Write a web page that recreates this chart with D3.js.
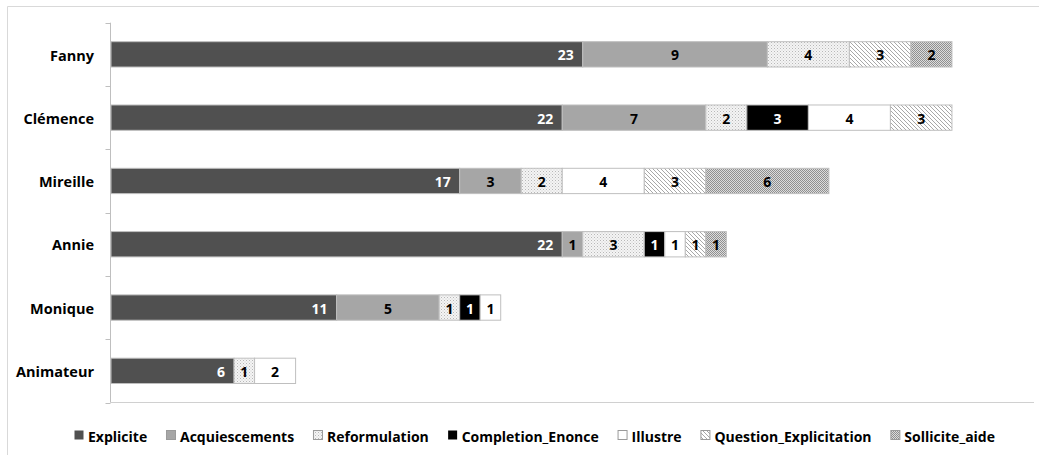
<!DOCTYPE html>
<html><head><meta charset="utf-8">
<script src="https://cdn.jsdelivr.net/npm/d3@7"></script>
<style>
html,body{margin:0;padding:0;background:#fff;}
svg{display:block;font-family:"Open Sans",Lato,sans-serif;font-weight:bold;}
</style></head>
<body><svg id="c" width="1039" height="455"></svg>
<script>
const categories = ["Fanny","Clémence","Mireille","Annie","Monique","Animateur"];
const seriesNames = ["Explicite","Acquiescements","Reformulation","Completion_Enonce","Illustre","Question_Explicitation","Sollicite_aide"];
const explicite        = [23,22,17,22,11,6];
const acquiescements   = [9,7,3,1,5,0];
const reformulation    = [4,2,2,3,1,1];
const completionEnonce = [0,3,0,1,1,0];
const illustre         = [0,4,4,1,1,2];
const questionExpl     = [3,3,3,1,0,0];
const solliciteAide    = [2,0,6,1,0,0];
const xMax = 45;

const seriesValues = [explicite,acquiescements,reformulation,completionEnonce,illustre,questionExpl,solliciteAide];
const fills = ["#505050","#a6a6a6","url(#pReform)","#000000","#ffffff","url(#pQuest)","url(#pSoll)"];
const labelColors = ["#fff","#000","#000","#fff","#000","#000","#000"];

const svg = d3.select("#c");
const defs = svg.append("defs");
let p = defs.append("pattern").attr("id","pReform").attr("width",3).attr("height",3).attr("patternUnits","userSpaceOnUse");
p.append("rect").attr("width",3).attr("height",3).attr("fill","#f4f4f4");
p.append("rect").attr("width",1).attr("height",1).attr("fill","#b8b8b8");
p.append("rect").attr("x",1.5).attr("y",1.5).attr("width",1).attr("height",1).attr("fill","#cfcfcf");
p = defs.append("pattern").attr("id","pQuest").attr("width",4).attr("height",4).attr("patternUnits","userSpaceOnUse");
p.append("rect").attr("width",4).attr("height",4).attr("fill","#fff");
p.append("path").attr("d","M0,0L4,4M-1,3L1,5M3,-1L5,1").attr("stroke","#a8a8a8").attr("stroke-width",1);
p = defs.append("pattern").attr("id","pSoll").attr("width",2).attr("height",2).attr("patternUnits","userSpaceOnUse");
p.append("rect").attr("width",2).attr("height",2).attr("fill","#dcdcdc");
p.append("rect").attr("width",1).attr("height",1).attr("fill","#909090");
p.append("rect").attr("x",1).attr("y",1).attr("width",1).attr("height",1).attr("fill","#909090");

svg.append("path").attr("d","M7.5,460V6.5H1045").attr("fill","none").attr("stroke","#d9d9d9");

const x = d3.scaleLinear().domain([0,xMax]).range([111,1034]);
const y = d3.scaleBand().domain(categories).range([22.7,402.5]).paddingInner(0.6).paddingOuter(0.3);

svg.append("line").attr("x1",110.5).attr("x2",1034).attr("y1",402.5).attr("y2",402.5).attr("stroke","#d0d0d0");

const rows = categories.map((c,i)=>{const o={cat:c}; seriesNames.forEach((s,j)=>o[s]=seriesValues[j][i]); return o;});
const stacked = d3.stack().keys(seriesNames)(rows);

stacked.forEach((layer,j)=>{
  const g = svg.append("g");
  layer.forEach(d=>{
    const v = d[1]-d[0];
    if(v<=0) return;
    g.append("rect")
      .attr("x",x(d[0])).attr("y",y(d.data.cat))
      .attr("width",x(d[1])-x(d[0])).attr("height",y.bandwidth())
      .attr("fill",fills[j]).attr("stroke","#bfbfbf").attr("stroke-width",1);
  });
});
stacked.forEach((layer,j)=>{
  layer.forEach(d=>{
    const v = d[1]-d[0];
    if(v<=0) return;
    const cy = y(d.data.cat)+y.bandwidth()/2;
    const t = svg.append("text").attr("y",cy+1).attr("dy","0.36em")
      .attr("font-size",14).attr("fill",labelColors[j]).text(v);
    if(j===0) t.attr("x",x(d[1])-9).attr("text-anchor","end");
    else t.attr("x",(x(d[0])+x(d[1]))/2).attr("text-anchor","middle");
  });
});

const yAxis = svg.append("g").attr("transform","translate(110.5,0)");
yAxis.append("line").attr("y1",22.7).attr("y2",402.5).attr("stroke","#bfbfbf");
const step = y.step();
for(let i=0;i<=categories.length;i++){
  const ty = Math.round(22.7+i*step)+0.5;
  yAxis.append("line").attr("x1",-5).attr("x2",0).attr("y1",ty).attr("y2",ty).attr("stroke","#bfbfbf");
}
categories.forEach(c=>{
  svg.append("text").attr("x",94).attr("y",y(c)+y.bandwidth()/2+1).attr("dy","0.36em")
    .attr("text-anchor","end").attr("font-size",14.5).attr("fill","#000").text(c);
});

// legend spread between x=74 and x=995
const lg = svg.append("g");
const items = seriesNames.map((s,j)=>{
  const t = lg.append("text").attr("y",442).attr("font-size",14).attr("fill","#000").text(s);
  return {t, w:t.node().getComputedTextLength(), j};
});
const totalW = d3.sum(items, d=>14+d.w);
const gap = (995-74-totalW)/(items.length-1);
let lx = 74;
items.forEach(it=>{
  lg.append("rect").attr("x",lx+0.5).attr("y",430.5).attr("width",9).attr("height",9)
    .attr("fill",fills[it.j]).attr("stroke", it.j===0||it.j===3 ? "none":"#9a9a9a");
  it.t.attr("x",lx+14);
  lx += 14+it.w+gap;
});
</script></body></html>
